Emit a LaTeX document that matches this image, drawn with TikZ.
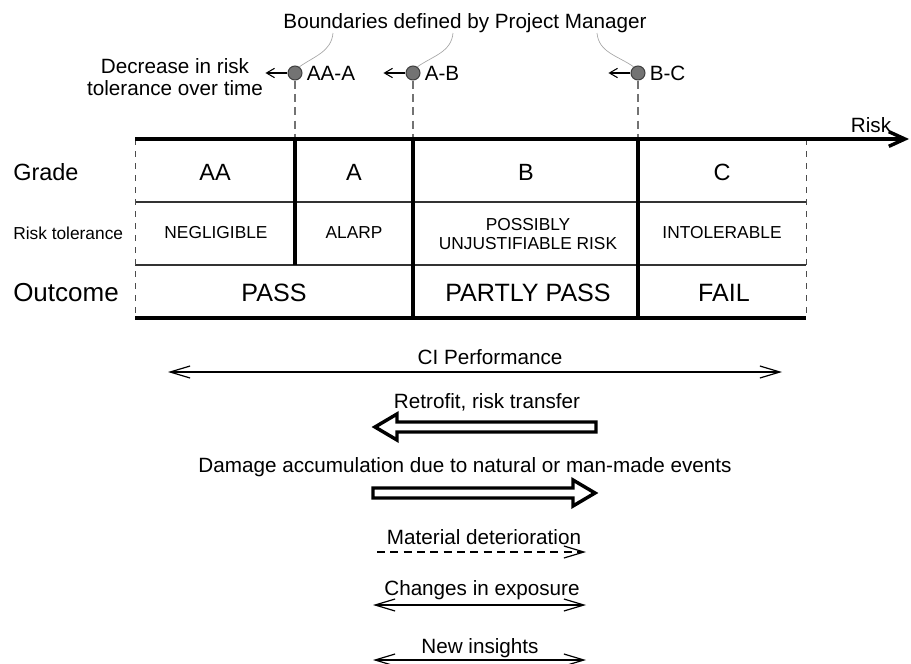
\documentclass[tikz,border=0pt]{standalone}
\usepackage{fontspec}
\setmainfont{Liberation Sans}
\usetikzlibrary{arrows.meta,positioning}
\tikzset{
    txt/.style={font=\fontsize{15.5}{16}\selectfont, inner sep=0pt, align=center},
    grade/.style={font=\fontsize{17.6}{20}\selectfont, inner sep=0pt},
    tol/.style={font=\fontsize{13}{14}\selectfont, inner sep=0pt, align=center},
    outc/.style={font=\fontsize{18.8}{22}\selectfont, inner sep=0pt},
    bound/.style={circle, draw=black!75, fill=black!55, line width=0.8pt, minimum size=10.5pt, inner sep=0pt},
    thin line/.style={black!80, line width=0.9pt},
    heavy/.style={line width=2.6pt},
    side/.style={black!70, line width=0.6pt, dash pattern=on 4.5pt off 4.5pt},
    guide/.style={black!55, line width=0.9pt, dash pattern=on 6pt off 4pt},
    leader/.style={black!35, line width=0.5pt},
    barb/.style={-{Straight Barb[length=15pt,width=9pt]}, line width=0.9pt},
    dbarb/.style={{Straight Barb[length=15pt,width=9pt]}-{Straight Barb[length=15pt,width=9pt]}, line width=0.9pt},
    small barb/.style={-{Straight Barb[length=6pt,width=7pt]}, line width=0.8pt},
    block/.style={draw, line width=2.6pt, fill=white, line join=miter}
}
\begin{document}
\begin{tikzpicture}[x=0.75pt, y=-0.75pt]
    \useasboundingbox (0,0) rectangle (911,664);

    % boundaries set by the project manager
    \node[txt] (bnd) at (465,23) {Boundaries defined by Project Manager};
    \node[txt] (decr) at (175,77) {Decrease in risk\\tolerance over time};
    \node[bound] (dAAA) at (295,73) {};
    \node[bound] (dAB) at (413,73) {};
    \node[bound] (dBC) at (638,73) {};
    \node[txt, anchor=west, right=3pt of dAAA] (lAAA) {AA-A};
    \node[txt, anchor=west, right=3pt of dAB] (lAB) {A-B};
    \node[txt, anchor=west, right=3pt of dBC] (lBC) {B-C};
    \coordinate (c1) at (333,33);
    \coordinate (c2) at (453,33);
    \coordinate (c3) at (597,33);
    \draw[leader] (c1) to[out=-95, in=35] (dAAA.55);
    \draw[leader] (c2) to[out=-95, in=35] (dAB.55);
    \draw[leader] (c3) to[out=-85, in=145] (dBC.125);
    \draw[small barb] (dAAA.west) -- ++(-22,0);
    \draw[small barb] (dAB.west) -- ++(-22,0);
    \draw[small barb] (dBC.west) -- ++(-22,0);

    % risk axis and table
    \coordinate (ax0) at (135,139);
    \coordinate (ax1) at (909,139);
    \coordinate (tr) at (806,139);
    \coordinate (bl) at (135,318);
    \coordinate (br) at (806,318);
    \node[txt] (risk) at (871,125) {Risk};
    \draw[guide] (dAAA.south) -- (dAAA |- ax0);
    \draw[guide] (dAB.south) -- (dAB |- ax0);
    \draw[guide] (dBC.south) -- (dBC |- ax0);
    \draw[thin line] (135,202) -- (806,202);
    \draw[thin line] (135,265) -- (806,265);
    \draw[side] (ax0) -- (bl);
    \draw[side] (tr) -- (br);
    \draw[heavy] (dAAA |- ax0) -- (295,265);
    \draw[heavy] (dAB |- ax0) -- (dAB |- bl);
    \draw[heavy] (dBC |- ax0) -- (dBC |- bl);
    \draw[heavy] (bl) -- (br);
    \draw[heavy, -{Straight Barb[length=12pt,width=11pt]}] (ax0) -- (ax1);

    \node[grade, anchor=west] (rGrade) at (13,172) {Grade};
    \node[tol, anchor=west] (rTol) at (13,233) {Risk tolerance};
    \node[outc, anchor=west, font=\fontsize{19.5}{22}\selectfont] (rOut) at (13,293) {Outcome};

    \node[grade] (gAA) at (215,172) {AA};
    \node[grade] (gA) at (354,172) {A};
    \node[grade] (gB) at (526,172) {B};
    \node[grade] (gC) at (722,172) {C};
    \node[tol] (tAA) at (216,233) {NEGLIGIBLE};
    \node[tol] (tA) at (354,233) {ALARP};
    \node[tol] (tB) at (528,234) {POSSIBLY\\UNJUSTIFIABLE RISK};
    \node[tol] (tC) at (722,233) {INTOLERABLE};
    \node[outc] (oPass) at (274,293) {PASS};
    \node[outc] (oPartly) at (528,293) {PARTLY PASS};
    \node[outc] (oFail) at (724,293) {FAIL};

    % drivers of change
    \node[txt] (ci) at (490,357) {CI Performance};
    \coordinate (ciL) at (168,372);
    \coordinate (ciR) at (782,372);
    \draw[dbarb] (ciL) -- (ciR);

    \node[txt] (retro) at (487,402) {Retrofit, risk transfer};
    \draw[block] (596,422) -- (397,422) -- (397,414) -- (375,427) -- (397,440)
        -- (397,432) -- (596,432) -- cycle;

    \node[txt] (dmg) at (465,467) {Damage accumulation due to natural or man-made events};
    \draw[block] (373,488) -- (573,488) -- (573,480) -- (595,493) -- (573,506)
        -- (573,498) -- (373,498) -- cycle;

    \node[txt] (mat) at (484,537) {Material deterioration};
    \coordinate (matL) at (377,552);
    \coordinate (matR) at (586,552);
    \draw[barb, dash pattern=on 6pt off 4pt] (matL) -- (matR);

    \node[txt] (expo) at (482,590) {Changes in exposure};
    \coordinate (expL) at (373,605);
    \coordinate (expR) at (586,605);
    \draw[dbarb] (expL) -- (expR);

    \node[txt] (ins) at (480,648) {New insights};
    \coordinate (insL) at (373,660);
    \coordinate (insR) at (586,660);
    \draw[dbarb] (insL) -- (insR);
\end{tikzpicture}
\end{document}
